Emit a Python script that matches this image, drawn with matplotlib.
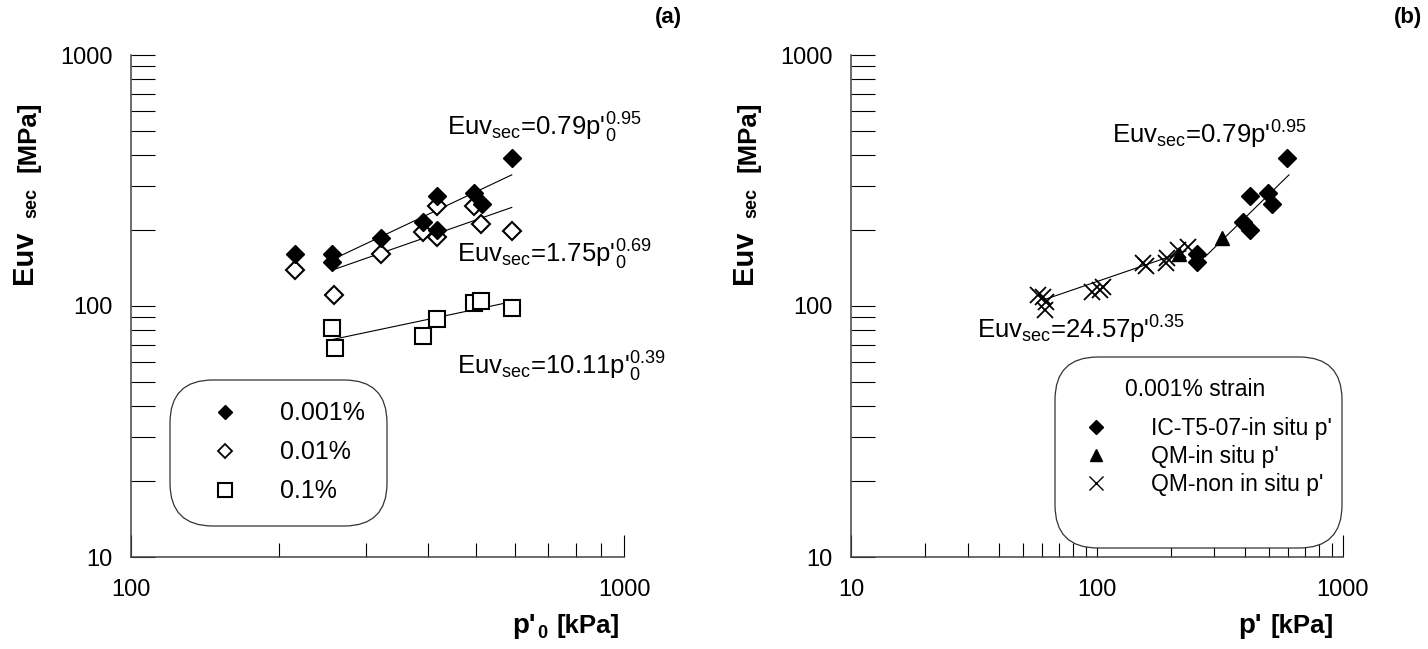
import matplotlib
matplotlib.use("Agg")
import matplotlib.pyplot as plt
from matplotlib.patches import FancyBboxPatch
from matplotlib.lines import Line2D
from matplotlib.ticker import LogLocator, NullFormatter, FixedLocator, FixedFormatter

plt.rcParams['font.family'] = ['Liberation Sans', 'DejaVu Sans']
plt.rcParams['mathtext.fontset'] = 'custom'
plt.rcParams['mathtext.rm'] = 'Liberation Sans'
plt.rcParams['mathtext.it'] = 'Liberation Sans:italic'
plt.rcParams['mathtext.bf'] = 'Liberation Sans:bold'

# ---------------- data: panel (a) ----------------
p_001 = [215, 256, 256, 322, 392, 417, 417, 497, 514, 592]
E_001 = [161, 161, 150, 187, 216, 275, 201, 283, 254, 390]
p_01 = [215, 258, 322, 392, 417, 417, 497, 512, 592]
E_01 = [139, 111, 161, 197, 189, 250, 250, 212, 199]
p_1 = [256, 259, 392, 417, 497, 512, 592]
E_1 = [82, 68, 76, 89, 103, 105, 98]
# fit lines (end points)
fit_001_p = [256, 592]
fit_001_E = [153, 333]
fit_01_p = [256, 592]
fit_01_E = [139, 247]
fit_1_p = [256, 592]
fit_1_E = [73.5, 104]

# ---------------- data: panel (b) ----------------
p_ic = [256, 256, 392, 417, 417, 497, 514, 592]
E_ic = [161, 150, 216, 275, 201, 283, 254, 390]
p_qm = [215, 322]
E_qm = [161, 187]
p_qmn = [57.7, 60.4, 62.0, 61.5, 95.0, 103.0, 106.0, 154.0, 158.0, 190.0, 193.0, 214.0, 235.0]
E_qmn = [110.6, 108.9, 104.0, 96.4, 114.0, 116.0, 119.5, 148.0, 144.0, 148.0, 155.0, 167.0, 172.0]
fit_b1_p = [275, 603]
fit_b1_E = [157, 333]
fit_b2_p = [60.5, 230]
fit_b2_E = [105.7, 165.6]

labels_a = ['0.001%', '0.01%', '0.1%']
labels_b = ["IC-T5-07-in situ p'", "QM-in situ p'", "QM-non in situ p'"]
xticks_a = [100, 1000]
xticks_b = [10, 100, 1000]
yticks = [10, 100, 1000]

W, H = 1428, 649
fig = plt.figure(figsize=(W / 100, H / 100), dpi=100)


def fx(px):
    return px / W


def fy(py):
    return 1 - py / H


top, bot = 55, 557
ax1 = fig.add_axes([fx(131), fy(bot), (624 - 131) / W, (bot - top) / H])
ax2 = fig.add_axes([fx(851), fy(bot), (1343 - 851) / W, (bot - top) / H])

for ax, xl, xt in [(ax1, (100, 1000), xticks_a), (ax2, (10, 1000), xticks_b)]:
    ax.set_xscale('log')
    ax.set_yscale('log')
    ax.set_xlim(*xl)
    ax.set_ylim(10, 1000)
    for s in ['top', 'right']:
        ax.spines[s].set_visible(False)
    for s in ['left', 'bottom']:
        ax.spines[s].set_color('#444444')
        ax.spines[s].set_linewidth(1.1)
    ax.xaxis.set_major_locator(FixedLocator(xt))
    ax.xaxis.set_major_formatter(FixedFormatter([str(v) for v in xt]))
    ax.xaxis.set_minor_locator(LogLocator(base=10, subs=range(2, 10)))
    ax.xaxis.set_minor_formatter(NullFormatter())
    ax.yaxis.set_major_locator(FixedLocator(yticks))
    ax.yaxis.set_major_formatter(FixedFormatter([str(v) for v in yticks]))
    ax.yaxis.set_minor_locator(LogLocator(base=10, subs=range(2, 10)))
    ax.yaxis.set_minor_formatter(NullFormatter())
    ax.tick_params(axis='y', which='both', direction='in', length=17, width=0.8,
                   color='black', labelsize=17, pad=13.5)
    ax.tick_params(axis='x', which='major', direction='in', length=16, width=0.8,
                   color='black', labelsize=17, pad=16)
    ax.tick_params(axis='x', which='minor', direction='in', length=10, width=0.8,
                   color='black')
    ax.patch.set_alpha(0)

# ----- panel (a) -----
ax1.plot(fit_001_p, fit_001_E, color='black', lw=0.8, zorder=2)
ax1.plot(fit_01_p, fit_01_E, color='black', lw=0.8, zorder=2)
ax1.plot(fit_1_p, fit_1_E, color='black', lw=0.8, zorder=2)
ax1.plot(p_01, E_01, ls='none', marker='D', ms=9, mfc='white', mec='black', mew=1.5, zorder=3)
ax1.plot(p_1, E_1, ls='none', marker='s', ms=11.5, mfc='white', mec='black', mew=1.5, zorder=3)
ax1.plot(p_001, E_001, ls='none', marker='D', ms=9.5, mfc='black', mec='black', zorder=4)

eq_fs = 18.5
ax1.text(fx(447), fy(128), r"Euv$_{\mathrm{sec}}$=0.79p'$_{0}^{0.95}$", transform=fig.transFigure,
         fontsize=eq_fs, ha='left', va='center')
ax1.text(fx(457), fy(255), r"Euv$_{\mathrm{sec}}$=1.75p'$_{0}^{0.69}$", transform=fig.transFigure,
         fontsize=eq_fs, ha='left', va='center')
ax1.text(fx(457), fy(367), r"Euv$_{\mathrm{sec}}$=10.11p'$_{0}^{0.39}$", transform=fig.transFigure,
         fontsize=eq_fs, ha='left', va='center')

# legend (a)
fig.add_artist(FancyBboxPatch((fx(170), fy(526)), (387 - 170) / W, (526 - 380) / H,
                              boxstyle='round,pad=0,rounding_size=0.03',
                              transform=fig.transFigure, fc='white', ec='#333333', lw=0.9,
                              mutation_aspect=W / H, zorder=5))
h_a = [Line2D([], [], ls='none', marker='D', ms=7, mfc='black', mec='black'),
       Line2D([], [], ls='none', marker='D', ms=7, mfc='white', mec='black', mew=1.3),
       Line2D([], [], ls='none', marker='s', ms=10, mfc='white', mec='black', mew=1.5)]
leg_a = fig.legend(h_a, labels_a, loc='upper left', bbox_to_anchor=(fx(170), fy(380)),
                   bbox_transform=fig.transFigure, frameon=False, fontsize=18,
                   borderpad=0.85, handlelength=2.7, handletextpad=0.85, labelspacing=0.6,
                   borderaxespad=0)
leg_a.set_zorder(6)

# ----- panel (b) -----
ax2.plot(fit_b1_p, fit_b1_E, color='black', lw=0.8, zorder=2)
ax2.plot(fit_b2_p, fit_b2_E, color='black', lw=0.8, zorder=2)
ax2.plot(p_qmn, E_qmn, ls='none', marker='x', ms=12, mec='black', mew=1.3, zorder=3)
ax2.plot(p_qm, E_qm, ls='none', marker='^', ms=10, mfc='black', mec='black', zorder=4)
ax2.plot(p_ic, E_ic, ls='none', marker='D', ms=9.5, mfc='black', mec='black', zorder=4)

ax2.text(fx(1112), fy(135), r"Euv$_{\mathrm{sec}}$=0.79p'$^{0.95}$", transform=fig.transFigure,
         fontsize=eq_fs, ha='left', va='center')
ax2.text(fx(977), fy(330), r"Euv$_{\mathrm{sec}}$=24.57p'$^{0.35}$", transform=fig.transFigure,
         fontsize=eq_fs, ha='left', va='center')

fig.add_artist(FancyBboxPatch((fx(1055), fy(548)), (1342 - 1055) / W, (548 - 357) / H,
                              boxstyle='round,pad=0,rounding_size=0.03',
                              transform=fig.transFigure, fc='white', ec='#333333', lw=0.9,
                              mutation_aspect=W / H, zorder=5))
fig.text(fx(1195), fy(389), '0.001% strain', fontsize=16.5, ha='center', va='center', zorder=6)
h_b = [Line2D([], [], ls='none', marker='D', ms=7, mfc='black', mec='black'),
       Line2D([], [], ls='none', marker='^', ms=8, mfc='black', mec='black'),
       Line2D([], [], ls='none', marker='x', ms=10, mec='black', mew=1.0)]
leg_b = fig.legend(h_b, labels_b, loc='upper left', bbox_to_anchor=(fx(1062), fy(417)),
                   bbox_transform=fig.transFigure, frameon=False, fontsize=16.5,
                   borderpad=0, handlelength=3.0, handletextpad=0.9, labelspacing=0.22,
                   borderaxespad=0)
leg_b.set_zorder(6)

# ----- axis labels -----
for off in [0, 720]:
    fig.text(fx(31.5 + off), fy(284), "Euv", fontsize=21, fontweight='bold', rotation=90,
             rotation_mode='anchor', ha='left', va='baseline')
    fig.text(fx(36 + off), fy(218), "sec", fontsize=13, fontweight='bold', rotation=90,
             rotation_mode='anchor', ha='left', va='baseline')
    fig.text(fx(36 + off), fy(172), "[MPa]", fontsize=18.5, fontweight='bold', rotation=90,
             rotation_mode='anchor', ha='left', va='baseline')

fig.text(fx(512), fy(633), "p'", fontsize=20, fontweight='bold', ha='left', va='baseline')
fig.text(fx(537), fy(638), "0", fontsize=13, fontweight='bold', ha='left', va='baseline')
fig.text(fx(557), fy(633), "[kPa]", fontsize=18.5, fontweight='bold', ha='left', va='baseline')

fig.text(fx(1238), fy(633), "p'", fontsize=20, fontweight='bold', ha='left', va='baseline')
fig.text(fx(1270), fy(633), "[kPa]", fontsize=18.5, fontweight='bold', ha='left', va='baseline')

fig.text(fx(668), fy(18), '(a)', fontsize=16, fontweight='bold', ha='center', va='center')
fig.text(fx(1408), fy(18), '(b)', fontsize=16, fontweight='bold', ha='center', va='center')

fig.savefig('out.png', dpi=100)
